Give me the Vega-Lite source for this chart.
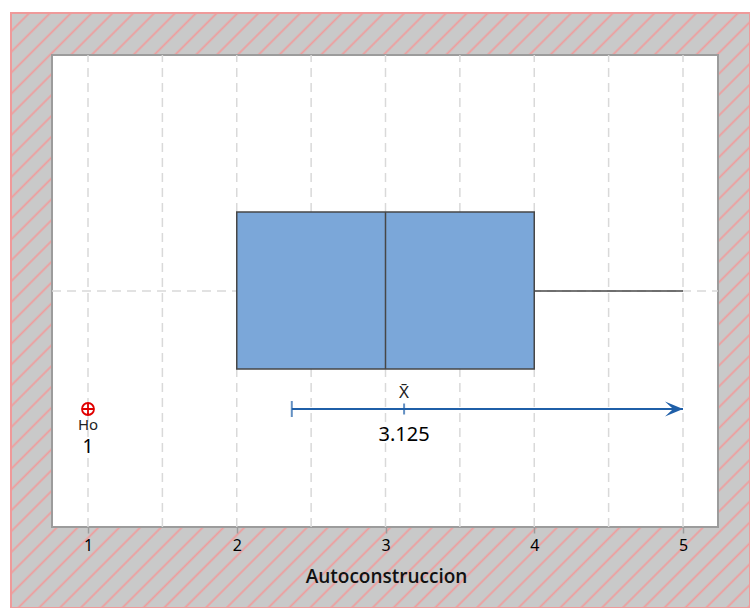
{
  "$schema": "https://vega.github.io/schema/vega-lite/v6.json",
  "width": 739,
  "height": 595,
  "autosize": "none",
  "padding": {"left": 11, "top": 13, "right": 0, "bottom": 0},
  "background": "white",
  "view": {
    "stroke": "#ef9a9a",
    "strokeWidth": 2,
    "fill": {
      "gradient": "linear",
      "x1": 0, "y1": 0, "x2": 1.0952, "y2": 0.8818,
      "stops": [
        {"offset": 0, "color": "#c9c9c9"},
        {"offset": 0.011875, "color": "#c9c9c9"}, {"offset": 0.01375, "color": "#ef9d9d"}, {"offset": 0.015625, "color": "#c9c9c9"},
        {"offset": 0.0275, "color": "#c9c9c9"}, {"offset": 0.029375, "color": "#ef9d9d"}, {"offset": 0.03125, "color": "#c9c9c9"},
        {"offset": 0.043125, "color": "#c9c9c9"}, {"offset": 0.045, "color": "#ef9d9d"}, {"offset": 0.046875, "color": "#c9c9c9"},
        {"offset": 0.05875, "color": "#c9c9c9"}, {"offset": 0.060625, "color": "#ef9d9d"}, {"offset": 0.0625, "color": "#c9c9c9"},
        {"offset": 0.074375, "color": "#c9c9c9"}, {"offset": 0.07625, "color": "#ef9d9d"}, {"offset": 0.078125, "color": "#c9c9c9"},
        {"offset": 0.09, "color": "#c9c9c9"}, {"offset": 0.091875, "color": "#ef9d9d"}, {"offset": 0.09375, "color": "#c9c9c9"},
        {"offset": 0.105625, "color": "#c9c9c9"}, {"offset": 0.1075, "color": "#ef9d9d"}, {"offset": 0.109375, "color": "#c9c9c9"},
        {"offset": 0.12125, "color": "#c9c9c9"}, {"offset": 0.123125, "color": "#ef9d9d"}, {"offset": 0.125, "color": "#c9c9c9"},
        {"offset": 0.136875, "color": "#c9c9c9"}, {"offset": 0.13875, "color": "#ef9d9d"}, {"offset": 0.140625, "color": "#c9c9c9"},
        {"offset": 0.1525, "color": "#c9c9c9"}, {"offset": 0.154375, "color": "#ef9d9d"}, {"offset": 0.15625, "color": "#c9c9c9"},
        {"offset": 0.168125, "color": "#c9c9c9"}, {"offset": 0.17, "color": "#ef9d9d"}, {"offset": 0.171875, "color": "#c9c9c9"},
        {"offset": 0.18375, "color": "#c9c9c9"}, {"offset": 0.185625, "color": "#ef9d9d"}, {"offset": 0.1875, "color": "#c9c9c9"},
        {"offset": 0.199375, "color": "#c9c9c9"}, {"offset": 0.20125, "color": "#ef9d9d"}, {"offset": 0.203125, "color": "#c9c9c9"},
        {"offset": 0.215, "color": "#c9c9c9"}, {"offset": 0.216875, "color": "#ef9d9d"}, {"offset": 0.21875, "color": "#c9c9c9"},
        {"offset": 0.230625, "color": "#c9c9c9"}, {"offset": 0.2325, "color": "#ef9d9d"}, {"offset": 0.234375, "color": "#c9c9c9"},
        {"offset": 0.24625, "color": "#c9c9c9"}, {"offset": 0.248125, "color": "#ef9d9d"}, {"offset": 0.25, "color": "#c9c9c9"},
        {"offset": 0.261875, "color": "#c9c9c9"}, {"offset": 0.26375, "color": "#ef9d9d"}, {"offset": 0.265625, "color": "#c9c9c9"},
        {"offset": 0.2775, "color": "#c9c9c9"}, {"offset": 0.279375, "color": "#ef9d9d"}, {"offset": 0.28125, "color": "#c9c9c9"},
        {"offset": 0.293125, "color": "#c9c9c9"}, {"offset": 0.295, "color": "#ef9d9d"}, {"offset": 0.296875, "color": "#c9c9c9"},
        {"offset": 0.30875, "color": "#c9c9c9"}, {"offset": 0.310625, "color": "#ef9d9d"}, {"offset": 0.3125, "color": "#c9c9c9"},
        {"offset": 0.324375, "color": "#c9c9c9"}, {"offset": 0.32625, "color": "#ef9d9d"}, {"offset": 0.328125, "color": "#c9c9c9"},
        {"offset": 0.34, "color": "#c9c9c9"}, {"offset": 0.341875, "color": "#ef9d9d"}, {"offset": 0.34375, "color": "#c9c9c9"},
        {"offset": 0.355625, "color": "#c9c9c9"}, {"offset": 0.3575, "color": "#ef9d9d"}, {"offset": 0.359375, "color": "#c9c9c9"},
        {"offset": 0.37125, "color": "#c9c9c9"}, {"offset": 0.373125, "color": "#ef9d9d"}, {"offset": 0.375, "color": "#c9c9c9"},
        {"offset": 0.386875, "color": "#c9c9c9"}, {"offset": 0.38875, "color": "#ef9d9d"}, {"offset": 0.390625, "color": "#c9c9c9"},
        {"offset": 0.4025, "color": "#c9c9c9"}, {"offset": 0.404375, "color": "#ef9d9d"}, {"offset": 0.40625, "color": "#c9c9c9"},
        {"offset": 0.418125, "color": "#c9c9c9"}, {"offset": 0.42, "color": "#ef9d9d"}, {"offset": 0.421875, "color": "#c9c9c9"},
        {"offset": 0.43375, "color": "#c9c9c9"}, {"offset": 0.435625, "color": "#ef9d9d"}, {"offset": 0.4375, "color": "#c9c9c9"},
        {"offset": 0.449375, "color": "#c9c9c9"}, {"offset": 0.45125, "color": "#ef9d9d"}, {"offset": 0.453125, "color": "#c9c9c9"},
        {"offset": 0.465, "color": "#c9c9c9"}, {"offset": 0.466875, "color": "#ef9d9d"}, {"offset": 0.46875, "color": "#c9c9c9"},
        {"offset": 0.480625, "color": "#c9c9c9"}, {"offset": 0.4825, "color": "#ef9d9d"}, {"offset": 0.484375, "color": "#c9c9c9"},
        {"offset": 0.49625, "color": "#c9c9c9"}, {"offset": 0.498125, "color": "#ef9d9d"}, {"offset": 0.5, "color": "#c9c9c9"},
        {"offset": 0.511875, "color": "#c9c9c9"}, {"offset": 0.51375, "color": "#ef9d9d"}, {"offset": 0.515625, "color": "#c9c9c9"},
        {"offset": 0.5275, "color": "#c9c9c9"}, {"offset": 0.529375, "color": "#ef9d9d"}, {"offset": 0.53125, "color": "#c9c9c9"},
        {"offset": 0.543125, "color": "#c9c9c9"}, {"offset": 0.545, "color": "#ef9d9d"}, {"offset": 0.546875, "color": "#c9c9c9"},
        {"offset": 0.55875, "color": "#c9c9c9"}, {"offset": 0.560625, "color": "#ef9d9d"}, {"offset": 0.5625, "color": "#c9c9c9"},
        {"offset": 0.574375, "color": "#c9c9c9"}, {"offset": 0.57625, "color": "#ef9d9d"}, {"offset": 0.578125, "color": "#c9c9c9"},
        {"offset": 0.59, "color": "#c9c9c9"}, {"offset": 0.591875, "color": "#ef9d9d"}, {"offset": 0.59375, "color": "#c9c9c9"},
        {"offset": 0.605625, "color": "#c9c9c9"}, {"offset": 0.6075, "color": "#ef9d9d"}, {"offset": 0.609375, "color": "#c9c9c9"},
        {"offset": 0.62125, "color": "#c9c9c9"}, {"offset": 0.623125, "color": "#ef9d9d"}, {"offset": 0.625, "color": "#c9c9c9"},
        {"offset": 0.636875, "color": "#c9c9c9"}, {"offset": 0.63875, "color": "#ef9d9d"}, {"offset": 0.640625, "color": "#c9c9c9"},
        {"offset": 0.6525, "color": "#c9c9c9"}, {"offset": 0.654375, "color": "#ef9d9d"}, {"offset": 0.65625, "color": "#c9c9c9"},
        {"offset": 0.668125, "color": "#c9c9c9"}, {"offset": 0.67, "color": "#ef9d9d"}, {"offset": 0.671875, "color": "#c9c9c9"},
        {"offset": 0.68375, "color": "#c9c9c9"}, {"offset": 0.685625, "color": "#ef9d9d"}, {"offset": 0.6875, "color": "#c9c9c9"},
        {"offset": 0.699375, "color": "#c9c9c9"}, {"offset": 0.70125, "color": "#ef9d9d"}, {"offset": 0.703125, "color": "#c9c9c9"},
        {"offset": 0.715, "color": "#c9c9c9"}, {"offset": 0.716875, "color": "#ef9d9d"}, {"offset": 0.71875, "color": "#c9c9c9"},
        {"offset": 0.730625, "color": "#c9c9c9"}, {"offset": 0.7325, "color": "#ef9d9d"}, {"offset": 0.734375, "color": "#c9c9c9"},
        {"offset": 0.74625, "color": "#c9c9c9"}, {"offset": 0.748125, "color": "#ef9d9d"}, {"offset": 0.75, "color": "#c9c9c9"},
        {"offset": 0.761875, "color": "#c9c9c9"}, {"offset": 0.76375, "color": "#ef9d9d"}, {"offset": 0.765625, "color": "#c9c9c9"},
        {"offset": 0.7775, "color": "#c9c9c9"}, {"offset": 0.779375, "color": "#ef9d9d"}, {"offset": 0.78125, "color": "#c9c9c9"},
        {"offset": 0.793125, "color": "#c9c9c9"}, {"offset": 0.795, "color": "#ef9d9d"}, {"offset": 0.796875, "color": "#c9c9c9"},
        {"offset": 0.80875, "color": "#c9c9c9"}, {"offset": 0.810625, "color": "#ef9d9d"}, {"offset": 0.8125, "color": "#c9c9c9"},
        {"offset": 0.824375, "color": "#c9c9c9"}, {"offset": 0.82625, "color": "#ef9d9d"}, {"offset": 0.828125, "color": "#c9c9c9"},
        {"offset": 0.84, "color": "#c9c9c9"}, {"offset": 0.841875, "color": "#ef9d9d"}, {"offset": 0.84375, "color": "#c9c9c9"},
        {"offset": 0.855625, "color": "#c9c9c9"}, {"offset": 0.8575, "color": "#ef9d9d"}, {"offset": 0.859375, "color": "#c9c9c9"},
        {"offset": 0.87125, "color": "#c9c9c9"}, {"offset": 0.873125, "color": "#ef9d9d"}, {"offset": 0.875, "color": "#c9c9c9"},
        {"offset": 0.886875, "color": "#c9c9c9"}, {"offset": 0.88875, "color": "#ef9d9d"}, {"offset": 0.890625, "color": "#c9c9c9"},
        {"offset": 0.9025, "color": "#c9c9c9"}, {"offset": 0.904375, "color": "#ef9d9d"}, {"offset": 0.90625, "color": "#c9c9c9"},
        {"offset": 0.918125, "color": "#c9c9c9"}, {"offset": 0.92, "color": "#ef9d9d"}, {"offset": 0.921875, "color": "#c9c9c9"},
        {"offset": 0.93375, "color": "#c9c9c9"}, {"offset": 0.935625, "color": "#ef9d9d"}, {"offset": 0.9375, "color": "#c9c9c9"},
        {"offset": 0.949375, "color": "#c9c9c9"}, {"offset": 0.95125, "color": "#ef9d9d"}, {"offset": 0.953125, "color": "#c9c9c9"},
        {"offset": 0.965, "color": "#c9c9c9"}, {"offset": 0.966875, "color": "#ef9d9d"}, {"offset": 0.96875, "color": "#c9c9c9"},
        {"offset": 0.980625, "color": "#c9c9c9"}, {"offset": 0.9825, "color": "#ef9d9d"}, {"offset": 0.984375, "color": "#c9c9c9"},
        {"offset": 0.99625, "color": "#c9c9c9"}, {"offset": 0.998125, "color": "#ef9d9d"}, {"offset": 1, "color": "#c9c9c9"}
      ]
    }
  },
  "datasets": {
    "grid": [{"x": 1}, {"x": 1.5}, {"x": 2}, {"x": 2.5}, {"x": 3}, {"x": 3.5}, {"x": 4}, {"x": 4.5}, {"x": 5}],
    "box": [{"min": 2, "q1": 2, "median": 3, "q3": 4, "max": 5}],
    "ci": [{"lower": 2.37, "upper": 5, "mean": 3.125, "label": "3.125"}],
    "ho": [{"ho": 1, "label": "1"}]
  },
  "layer": [
    {
      "data": {"values": [{}]},
      "mark": {"type": "rect", "fill": "white", "stroke": "#9c9c9c", "strokeWidth": 2},
      "encoding": {
        "x": {"datum": 0.758, "type": "quantitative", "scale": {"domain": [0.48235, 5.4504], "nice": false, "zero": false},
          "title": "Autoconstruccion",
          "axis": {"values": [1, 2, 3, 4, 5], "offset": -81, "domain": false, "grid": false, "tickSize": 6, "tickColor": "#9c9c9c", "tickWidth": 1.5,
            "labelFontSize": 16, "labelColor": "#000000", "labelPadding": 4, "labelFlush": false, "format": "d",
            "titleFont": "Open Sans", "titleFontSize": 19, "titleFontWeight": 600, "titleColor": "#111111", "titlePadding": 14, "titleX": 375}},
        "x2": {"datum": 5.2353},
        "y": {"datum": 0, "type": "quantitative", "scale": {"domain": [-0.17161, 1.08898], "nice": false, "zero": false}, "axis": null},
        "y2": {"datum": 1}
      }
    },
    {
      "data": {"name": "grid"},
      "mark": {"type": "rule", "stroke": "#d9d9d9", "strokeWidth": 1.5, "strokeDash": [9, 6]},
      "encoding": {
        "x": {"field": "x", "type": "quantitative", "title": "Autoconstruccion"},
        "y": {"datum": 0, "type": "quantitative"},
        "y2": {"datum": 1}
      }
    },
    {
      "data": {"values": [{}]},
      "mark": {"type": "rule", "stroke": "#d9d9d9", "strokeWidth": 1.5, "strokeDash": [9, 6]},
      "encoding": {
        "x": {"datum": 0.758, "type": "quantitative"},
        "x2": {"datum": 5.2353},
        "y": {"datum": 0.5, "type": "quantitative"}
      }
    },
    {
      "data": {"name": "box"},
      "mark": {"type": "rule", "stroke": "#474747", "strokeWidth": 1.5},
      "encoding": {
        "x": {"field": "q3", "type": "quantitative", "title": "Autoconstruccion"},
        "x2": {"field": "max"},
        "y": {"datum": 0.5, "type": "quantitative"}
      }
    },
    {
      "data": {"name": "box"},
      "mark": {"type": "rect", "fill": "#7ba7d9", "stroke": "#474747", "strokeWidth": 1.5},
      "encoding": {
        "x": {"field": "q1", "type": "quantitative", "title": "Autoconstruccion"},
        "x2": {"field": "q3"},
        "y": {"datum": 0.3347, "type": "quantitative"},
        "y2": {"datum": 0.6674}
      }
    },
    {
      "data": {"name": "box"},
      "mark": {"type": "rule", "stroke": "#474747", "strokeWidth": 1.5},
      "encoding": {
        "x": {"field": "median", "type": "quantitative", "title": "Autoconstruccion"},
        "y": {"datum": 0.3347, "type": "quantitative"},
        "y2": {"datum": 0.6674}
      }
    },
    {
      "data": {"name": "ci"},
      "mark": {"type": "rule", "stroke": "#1f5fa8", "strokeWidth": 2},
      "encoding": {
        "x": {"field": "lower", "type": "quantitative", "title": "Autoconstruccion"},
        "x2": {"field": "upper"},
        "y": {"datum": 0.25, "type": "quantitative"}
      }
    },
    {
      "data": {"name": "ci"},
      "mark": {"type": "tick", "orient": "vertical", "color": "#1f5fa8", "size": 16, "thickness": 2},
      "encoding": {
        "x": {"field": "lower", "type": "quantitative", "title": "Autoconstruccion"},
        "y": {"datum": 0.25, "type": "quantitative"}
      }
    },
    {
      "data": {"name": "ci"},
      "mark": {"type": "tick", "orient": "vertical", "color": "#1f5fa8", "size": 11, "thickness": 2},
      "encoding": {
        "x": {"field": "mean", "type": "quantitative", "title": "Autoconstruccion"},
        "y": {"datum": 0.25, "type": "quantitative"}
      }
    },
    {
      "data": {"name": "ci"},
      "mark": {"type": "point", "filled": true, "fill": "#1f5fa8", "opacity": 1, "strokeWidth": 0, "size": 1296,
        "shape": "M0,0 L-1,-0.42 L-0.55,0 L-1,0.42 Z"},
      "encoding": {
        "x": {"field": "upper", "type": "quantitative", "title": "Autoconstruccion"},
        "y": {"datum": 0.25, "type": "quantitative"}
      }
    },
    {
      "data": {"name": "ci"},
      "mark": {"type": "text", "text": "X̄", "fontSize": 17, "dy": -16, "color": "#222222", "font": "Noto Sans"},
      "encoding": {
        "x": {"field": "mean", "type": "quantitative", "title": "Autoconstruccion"},
        "y": {"datum": 0.25, "type": "quantitative"}
      }
    },
    {
      "data": {"name": "ci"},
      "mark": {"type": "text", "fontSize": 20, "dy": 26, "color": "#000000", "font": "Noto Sans"},
      "encoding": {
        "x": {"field": "mean", "type": "quantitative", "title": "Autoconstruccion"},
        "y": {"datum": 0.25, "type": "quantitative"},
        "text": {"field": "label"}
      }
    },
    {
      "data": {"name": "ho"},
      "mark": {"type": "point", "filled": false, "stroke": "#e00000", "opacity": 1, "strokeWidth": 1.8, "size": 144,
        "shape": "M-1,0 A1,1 0 1,1 1,0 A1,1 0 1,1 -1,0 M-1,0 L1,0 M0,-1 L0,1"},
      "encoding": {
        "x": {"field": "ho", "type": "quantitative", "title": "Autoconstruccion"},
        "y": {"datum": 0.25, "type": "quantitative"}
      }
    },
    {
      "data": {"name": "ho"},
      "mark": {"type": "text", "text": "Ho", "fontSize": 15, "dy": 16, "color": "#222222", "font": "Noto Sans"},
      "encoding": {
        "x": {"field": "ho", "type": "quantitative", "title": "Autoconstruccion"},
        "y": {"datum": 0.25, "type": "quantitative"}
      }
    },
    {
      "data": {"name": "ho"},
      "mark": {"type": "text", "fontSize": 19, "dy": 38, "color": "#000000", "font": "Noto Sans"},
      "encoding": {
        "x": {"field": "ho", "type": "quantitative", "title": "Autoconstruccion"},
        "y": {"datum": 0.25, "type": "quantitative"},
        "text": {"field": "label"}
      }
    }
  ],
  "config": {
    "font": "Noto Sans",
    "axis": {"labelFont": "Noto Sans"}
  }
}
